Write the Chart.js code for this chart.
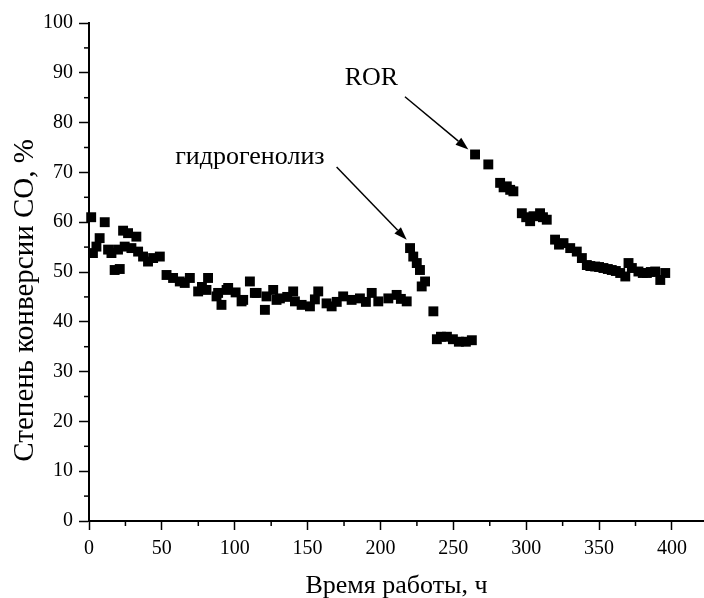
<!DOCTYPE html>
<html><head><meta charset="utf-8">
<script src="https://cdn.jsdelivr.net/npm/chart.js@4/dist/chart.umd.min.js"></script>
<style>html,body{margin:0;padding:0;background:#fff;}#wrap{width:704px;height:598px;}</style>
</head><body><div id="wrap"><canvas id="c" width="704" height="598"></canvas></div>
<script>
const timeHours = [1.5,2.7,5.1,7.3,10.8,13.1,15.4,17.6,19.9,21.1,23.4,24.5,26.8,29.1,32.5,33.7,37.1,40.5,44.0,48.6,
53.2,57.7,62.3,65.7,69.2,74.9,77.5,80.6,81.7,87.5,88.6,90.9,94.4,95.5,100.6,104.7,105.8,110.4,113.8,115.0,120.7,121.8,126.4,128.7,131.0,
136.0,140.1,141.3,145.9,151.6,155.0,157.3,163.0,166.5,170.0,174.4,180.2,185.9,190.0,194.0,198.5,205.4,211.1,214.0,218.0,
220.3,222.5,224.9,227.1,228.3,230.6,236.3,238.7,241.5,245.6,249.7,253.8,258.6,262.7,
264.9,274.0,282.1,284.5,286.7,289.0,291.2,297.0,300.0,302.7,305.0,309.5,311.5,314.1,319.8,322.5,325.6,330.2,334.7,338.2,341.6,344.0,347.3,350.0,353.0,356.0,358.7,361.5,364.5,368.0,370.2,372.5,377.0,380.0,382.8,385.5,388.5,392.0,395.4];
const conversion = [61.0,53.8,55.1,56.8,60.0,54.5,53.8,50.4,54.5,50.6,58.3,55.1,57.8,54.8,57.1,54.1,53.1,52.1,52.8,53.1,
49.4,48.8,48.1,47.8,48.8,46.1,47.0,46.4,48.8,45.1,45.8,43.4,46.4,46.8,45.9,44.1,44.4,48.1,45.8,45.8,42.4,45.1,46.4,44.4,44.7,
45.0,46.1,44.1,43.4,43.1,44.5,46.1,43.7,43.1,44.0,45.1,44.4,44.7,44.0,45.8,44.1,44.7,45.4,44.6,44.1,
54.8,53.1,51.8,50.4,47.1,48.1,42.1,36.5,37.0,37.0,36.5,36.0,36.0,36.3,
73.6,71.6,67.9,67.0,67.2,66.5,66.2,61.8,61.0,60.2,61.2,61.8,61.0,60.5,56.5,55.5,55.8,54.8,54.1,52.8,51.4,51.2,51.1,51.0,50.8,50.6,50.4,50.2,49.8,49.1,51.8,50.8,50.1,49.8,49.8,50.0,50.1,48.4,49.8];
const xTickValues = [0,50,100,150,200,250,300,350,400];
const yTickValues = [0,10,20,30,40,50,60,70,80,90,100];
const xMinorTicks = [25,75,125,175,225,275,325,375];
const yMinorTicks = [5,15,25,35,45,55,65,75,85,95];
const annotationTexts = [
  {text:'гидрогенолиз', x:110.4, y:71.6, fromX:169.9, fromY:71.1, toX:218.0, toY:56.5},
  {text:'ROR', x:193.8, y:87.5, fromX:216.8, fromY:85.2, toX:260.3, toY:74.6}
];
const xTitle = 'Время работы, ч';
const yTitle = 'Степень конверсии CO, %';
const yTitleCenterValue = 44.3;

const FONT = "'Liberation Serif', 'Times New Roman', serif";
const points = timeHours.map((t,i)=>({x:t,y:conversion[i]}));

const extrasPlugin = {
  id:'extras',
  afterDraw(chart){
    const ctx = chart.ctx, xs = chart.scales.x, ys = chart.scales.y;
    ctx.save();
    ctx.strokeStyle = '#000'; ctx.lineWidth = 1.5;
    const axY = ys.getPixelForValue(0), axX = xs.getPixelForValue(0);
    xMinorTicks.forEach(v=>{const p=xs.getPixelForValue(v);ctx.beginPath();ctx.moveTo(p,axY);ctx.lineTo(p,axY+5);ctx.stroke();});
    yMinorTicks.forEach(v=>{const p=ys.getPixelForValue(v);ctx.beginPath();ctx.moveTo(axX,p);ctx.lineTo(axX-5,p);ctx.stroke();});
    ctx.fillStyle = '#000';
    ctx.save();
    ctx.font = '29px ' + FONT;
    ctx.translate(ys.left + 33, ys.getPixelForValue(yTitleCenterValue));
    ctx.rotate(-Math.PI/2);
    ctx.textAlign = 'center'; ctx.textBaseline = 'alphabetic';
    ctx.fillText(yTitle, 0, 0);
    ctx.restore();
    ctx.font = '26px ' + FONT;
    ctx.textAlign = 'center'; ctx.textBaseline = 'alphabetic';
    annotationTexts.forEach(a=>{
      ctx.fillText(a.text, xs.getPixelForValue(a.x), ys.getPixelForValue(a.y));
      const x1=xs.getPixelForValue(a.fromX), y1=ys.getPixelForValue(a.fromY);
      const x2=xs.getPixelForValue(a.toX), y2=ys.getPixelForValue(a.toY);
      const ang=Math.atan2(y2-y1,x2-x1), hl=13, hw=4.5;
      const bx=x2-hl*Math.cos(ang), by=y2-hl*Math.sin(ang);
      ctx.lineWidth=1.5;
      ctx.beginPath();ctx.moveTo(x1,y1);ctx.lineTo(bx,by);ctx.stroke();
      ctx.beginPath();ctx.moveTo(x2,y2);
      ctx.lineTo(bx+hw*Math.sin(ang), by-hw*Math.cos(ang));
      ctx.lineTo(bx-hw*Math.sin(ang), by+hw*Math.cos(ang));
      ctx.closePath();ctx.fill();
    });
    ctx.restore();
  }
};

new Chart(document.getElementById('c'), {
  type:'scatter',
  data:{datasets:[{data:points, pointStyle:'rect', pointRadius:7, pointHoverRadius:7,
    backgroundColor:'#000', borderColor:'#000', borderWidth:0, clip:false}]},
  options:{
    responsive:false, animation:false, devicePixelRatio:1,
    layout:{autoPadding:false, padding:{top:23,right:0,bottom:0,left:0}},
    plugins:{legend:{display:false}, tooltip:{enabled:false}},
    scales:{
      x:{type:'linear', min:0, max:422,
        afterFit(s){s.height=77;},
        afterBuildTicks(s){s.ticks = xTickValues.map(v=>({value:v}));},
        ticks:{font:{family:FONT,size:20}, color:'#000', padding:7, maxRotation:0, autoSkip:false},
        grid:{drawOnChartArea:false, drawTicks:true, tickLength:9, tickColor:'#000', tickWidth:1.5},
        border:{color:'#000', width:2},
        title:{display:true, text:xTitle, font:{family:FONT,size:26}, color:'#000', padding:{top:0,bottom:-4}}
      },
      y:{type:'linear', min:0, max:100,
        afterFit(s){s.width=89;},
        afterBuildTicks(s){s.ticks = yTickValues.map(v=>({value:v}));},
        ticks:{font:{family:FONT,size:20}, color:'#000', padding:6, autoSkip:false},
        grid:{drawOnChartArea:false, drawTicks:true, tickLength:10, tickColor:'#000', tickWidth:1.5},
        border:{color:'#000', width:2},
        title:{display:false}
      }
    }
  },
  plugins:[extrasPlugin]
});
</script></body></html>
